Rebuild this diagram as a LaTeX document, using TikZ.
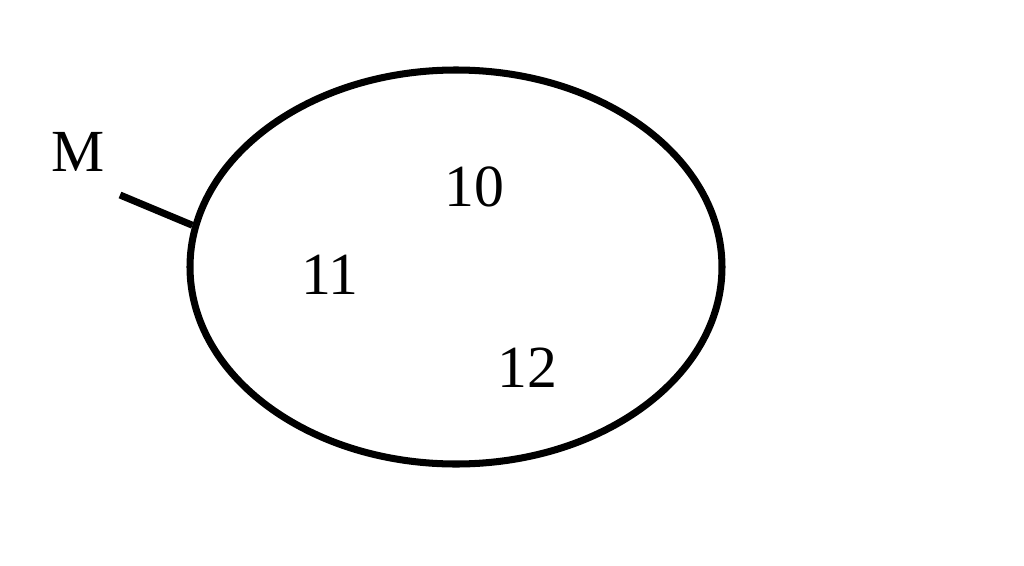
\documentclass[tikz,border=0pt]{standalone}
\usepackage{fontspec}
\setmainfont{Liberation Serif}
\usetikzlibrary{shapes.geometric}
\begin{document}
\begin{tikzpicture}[x=1cm,y=1cm,
  lbl/.style={inner sep=0pt,font=\fontsize{17pt}{20pt}\selectfont},
  thick line/.style={line width=2pt,black}]
\useasboundingbox (0,0) rectangle (10.24,5.65);
\node[ellipse,draw,line width=2pt,minimum width=5.32cm,minimum height=3.94cm,inner sep=0pt] (set) at (4.56,2.98) {};
\node[lbl] (M) at (0.78,4.13) {M};
\node[lbl] (n10) at (4.74,3.78) {10};
\node[lbl] (n11) at (3.30,2.90) {11};
\node[lbl] (n12) at (5.27,1.97) {12};
\coordinate (tickstart) at (1.20,3.70);
\draw[thick line] (tickstart) -- (set.171.5);
\end{tikzpicture}
\end{document}
